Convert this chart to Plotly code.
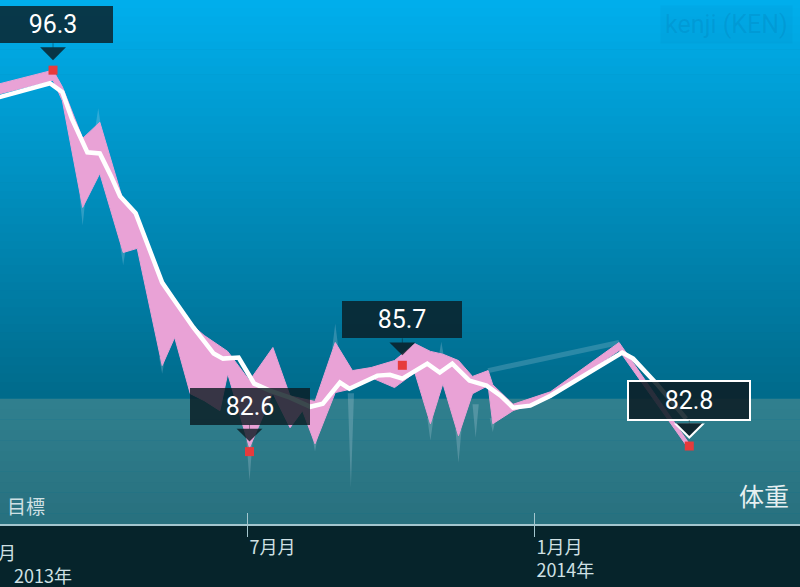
import plotly.graph_objects as go
from datetime import datetime, timedelta

# ---------------- data ----------------
band_dates = ["2013-01-22", "2013-02-26", "2013-03-04", "2013-03-17", "2013-03-28", "2013-04-12",
              "2013-04-21", "2013-05-07", "2013-05-15", "2013-05-25", "2013-06-03", "2013-06-13",
              "2013-06-18", "2013-07-02", "2013-07-17", "2013-07-28", "2013-08-05", "2013-08-13",
              "2013-08-26", "2013-09-06", "2013-09-18", "2013-10-03", "2013-10-16", "2013-10-26",
              "2013-11-03", "2013-11-13", "2013-11-22", "2013-12-02", "2013-12-05", "2013-12-18",
              "2014-01-11", "2014-02-24", "2014-04-10"]
band_high = [95.80, 96.30, 95.70, 93.85, 94.43, 91.60, 91.10, 88.75, 88.10, 87.20,
             86.77, 86.40, 86.20, 85.15, 86.34, 84.60, 84.50, 84.40, 86.52, 85.51,
             85.62, 85.87, 86.48, 86.20, 86.10, 85.87, 85.30, 85.51, 85.00, 84.30,
             84.75, 86.52, 82.88]
band_low = [95.44, 95.94, 95.20, 91.37, 92.59, 89.75, 89.90, 85.69, 86.70, 84.68,
            84.43, 84.07, 85.40, 82.74, 84.70, 83.46, 84.07, 82.88, 84.72, 84.86,
            85.26, 84.90, 85.44, 83.60, 85.04, 83.17, 84.68, 84.97, 83.60, 84.07,
            84.54, 86.23, 82.67]

trend_dates = ["2013-01-22", "2013-02-24", "2013-03-04", "2013-03-10", "2013-03-20", "2013-03-28",
               "2013-04-04", "2013-04-10", "2013-04-20", "2013-04-29", "2013-05-07", "2013-05-14",
               "2013-05-27", "2013-06-09", "2013-06-15", "2013-06-25", "2013-07-05", "2013-07-15",
               "2013-07-28", "2013-08-10", "2013-08-18", "2013-08-29", "2013-09-04", "2013-09-22",
               "2013-09-30", "2013-10-08", "2013-10-24", "2013-11-01", "2013-11-09", "2013-11-20",
               "2013-12-01", "2013-12-10", "2013-12-18", "2013-12-29", "2014-01-11", "2014-02-26",
               "2014-03-05", "2014-03-20", "2014-04-08"]
trend_vals = [95.32, 95.83, 95.51, 94.57, 93.35, 93.31, 92.52, 91.77, 91.16, 89.85,
              88.67, 88.10, 87.06, 86.12, 85.94, 85.98, 85.04, 84.79, 84.54, 84.21,
              84.32, 85.08, 84.86, 85.33, 85.36, 85.22, 85.76, 85.44, 85.76, 85.15,
              84.97, 84.61, 84.18, 84.25, 84.61, 86.16, 85.94, 85.04, 83.78]

# faint single readings that stick out of the band (tip date, tip value, value where it leaves the band)
spike_dates = ["2013-03-17", "2013-03-27", "2013-04-12", "2013-05-07", "2013-07-02", "2013-08-13",
               "2013-08-26", "2013-09-05", "2013-10-26", "2013-11-02", "2013-11-13", "2013-11-24",
               "2013-12-05"]
spike_tips = [90.72, 94.93, 89.29, 85.40, 81.55, 82.60, 87.20, 81.30, 83.00, 86.55, 82.20, 83.10, 83.30]
spike_bases = [91.80, 94.20, 90.00, 86.00, 83.00, 83.20, 86.30, 84.70, 83.80, 85.90, 83.40, 84.30, 83.80]

faint_dates = ["2013-12-02", "2014-02-24"]
faint_vals = [85.51, 86.52]

mark_dates = ["2013-02-26", "2013-07-02", "2013-10-08", "2014-04-10"]
mark_vals = [96.3, 82.6, 85.7, 82.8]
mark_texts = ["96.3", "82.6", "85.7", "82.8"]
highlight = 3

goal = 84.5
tick_vals = ["2013-07-01", "2014-01-01"]
tick_text = ["7月月", "1月月<br>2014年"]
left_month_label = "1月月"
left_year_label = "2013年"
x_range = ["2013-01-23", "2014-06-20"]
y_range = [80, 98.82]

# ---------------- styles ----------------
PINK = "#E9A2D6"
BOX = "rgba(10,26,33,0.80)"
BOX_HI = "rgba(12,30,38,0.88)"
HEAD_HI = "#10262F"
TICKC = "#A3C6CE"
LABELC = "#CFE0E4"

fig = go.Figure()

# background gradient strips (upper area) and goal zone
shapes = []
n = 48
top_c = (0, 175, 237)
bot_c = (0, 106, 138)
for i in range(n):
    f0 = i / n
    f1 = (i + 1) / n
    y0 = goal + (y_range[1] - goal) * f0
    y1 = goal + (y_range[1] - goal) * f1 + 0.02
    t = 1 - (f0 + f1) / 2
    c = tuple(int(round(top_c[k] + (bot_c[k] - top_c[k]) * t)) for k in range(3))
    shapes.append(dict(type="rect", xref="paper", yref="y", x0=0, x1=1, y0=y0, y1=y1,
                       fillcolor="rgb(%d,%d,%d)" % c, line=dict(width=0), layer="below"))
m = 12
g_top = (48, 128, 143)
g_bot = (40, 112, 126)
for i in range(m):
    f0 = i / m
    f1 = (i + 1) / m
    y0 = y_range[0] + (goal - y_range[0]) * f0
    y1 = y_range[0] + (goal - y_range[0]) * f1 + 0.01
    t = 1 - (f0 + f1) / 2
    c = tuple(int(round(g_top[k] + (g_bot[k] - g_top[k]) * t)) for k in range(3))
    shapes.append(dict(type="rect", xref="paper", yref="y", x0=0, x1=1, y0=y0, y1=min(y1, goal),
                       fillcolor="rgb(%d,%d,%d)" % c, line=dict(width=0), layer="below"))

# faint spikes
sx, sy = [], []
half = timedelta(days=2)
for d, tip, base in zip(spike_dates, spike_tips, spike_bases):
    dt = datetime.strptime(d, "%Y-%m-%d")
    sx += [dt - half, dt, dt + half, None]
    sy += [base, tip, base, None]
fig.add_trace(go.Scatter(x=sx, y=sy, mode="lines", fill="toself",
                         fillcolor="rgba(215,228,240,0.22)", line=dict(width=0),
                         hoverinfo="skip", showlegend=False))

fig.add_trace(go.Scatter(x=faint_dates, y=faint_vals, mode="lines",
                         line=dict(color="rgba(215,228,240,0.20)", width=5),
                         hoverinfo="skip", showlegend=False))

# pink band
fig.add_trace(go.Scatter(x=band_dates, y=band_high, mode="lines",
                         line=dict(color=PINK, width=1), showlegend=False))
fig.add_trace(go.Scatter(x=band_dates, y=band_low, mode="lines", fill="tonexty",
                         fillcolor=PINK, line=dict(color=PINK, width=1), showlegend=False))

# trend line
fig.add_trace(go.Scatter(x=trend_dates, y=trend_vals, mode="lines",
                         line=dict(color="white", width=4.5), showlegend=False))

# red markers (on overlay axis so its inside ticks get drawn)
fig.add_trace(go.Scatter(x=mark_dates, y=mark_vals, mode="markers", xaxis="x2",
                         marker=dict(symbol="square", size=9, color="#E63B3C"),
                         showlegend=False))

annotations = []
BOX_W, BOX_H, PAD = 114, 31, 3
GAP = 27  # distance from point to bottom of box
for i, (d, v, t) in enumerate(zip(mark_dates, mark_vals, mark_texts)):
    hi = (i == highlight)
    col = BOX_HI if hi else BOX
    ay = -(GAP + BOX_H / 2 + PAD)
    if hi:
        annotations.append(dict(x=d, y=v, xref="x", yref="y", text="", showarrow=True,
                                ax=0, ay=-(GAP - 2), standoff=7, arrowhead=1,
                                arrowsize=10.4, arrowwidth=0.5, arrowcolor="white"))
    annotations.append(dict(x=d, y=v, xref="x", yref="y", text=t, showarrow=True,
                            ax=0, ay=ay, standoff=10, arrowhead=1, arrowsize=8.6,
                            arrowwidth=0.5, arrowcolor=HEAD_HI if hi else col,
                            width=BOX_W, height=BOX_H, borderpad=PAD,
                            bgcolor=col, bordercolor="white" if hi else "rgba(0,0,0,0)",
                            borderwidth=2 if hi else 0,
                            font=dict(family="Roboto", size=25, color="white")))

annotations += [
    dict(x=0, y=y_range[0], xref="paper", yref="y", text="目標", showarrow=False,
         xanchor="left", yanchor="bottom", xshift=5, yshift=3,
         font=dict(family="Noto Sans CJK JP", size=19, color=LABELC)),
    dict(x=1, y=y_range[0], xref="paper", yref="y", text="体重", showarrow=False,
         xanchor="right", yanchor="bottom", xshift=-9, yshift=9,
         font=dict(family="Noto Sans CJK JP", size=25, color="#E6EFF1")),
    dict(x=0, y=0, xref="paper", yref="paper", text=left_month_label, showarrow=False,
         xanchor="right", yanchor="top", xshift=18, yshift=-13,
         font=dict(family="Noto Sans CJK JP", size=18, color=LABELC)),
    dict(x=0, y=0, xref="paper", yref="paper", text=left_year_label, showarrow=False,
         xanchor="left", yanchor="top", xshift=12, yshift=-36,
         font=dict(family="Noto Sans CJK JP", size=18, color=LABELC)),
    dict(x=1, y=1, xref="paper", yref="paper", text="kenji (KEN)", showarrow=False,
         xanchor="right", yanchor="top", xshift=-7, yshift=-5, borderpad=4,
         bgcolor="rgba(0,80,130,0.05)",
         font=dict(family="Roboto", size=25, color="rgba(0,95,150,0.16)")),
]

fig.update_layout(
    width=800, height=587,
    margin=dict(l=0, r=0, t=0, b=63),
    paper_bgcolor="#06242B",
    plot_bgcolor="#05708F",
    shapes=shapes,
    annotations=annotations,
    showlegend=False,
    hovermode=False,
    xaxis=dict(type="date", range=x_range, showgrid=False, zeroline=False,
               showline=True, linecolor=TICKC, linewidth=2,
               ticks="outside", ticklen=11, tickwidth=1, tickcolor=TICKC,
               tickvals=tick_vals, ticktext=tick_text, ticklabelposition="outside right",
               ticklabelstandoff=6,
               tickfont=dict(family="Noto Sans CJK JP", size=18, color=LABELC),
               fixedrange=True),
    xaxis2=dict(type="date", range=x_range, overlaying="x", anchor="y", side="bottom",
                showgrid=False, zeroline=False, showline=False,
                ticks="inside", ticklen=11, tickwidth=1, tickcolor=TICKC,
                tickvals=tick_vals, showticklabels=False, fixedrange=True),
    yaxis=dict(range=y_range, visible=False, fixedrange=True),
)

fig.write_html("out.html", config={"displayModeBar": False},
               post_script="document.body.style.margin='0';document.body.style.overflow='hidden';")
